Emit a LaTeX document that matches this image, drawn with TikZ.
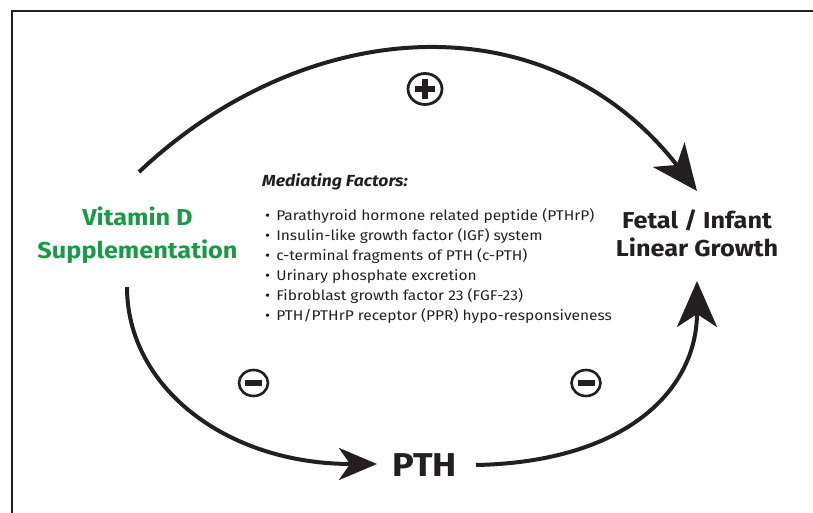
\documentclass[tikz,border=0pt]{standalone}
\usepackage{fontspec}
\setmainfont{Fira Sans}[FakeStretch=1.1]
\usetikzlibrary{arrows.meta,calc,shapes.geometric}
\definecolor{ink}{HTML}{231F20}
\definecolor{vgreen}{HTML}{1A9A48}
\begin{document}
\begin{tikzpicture}[x=1pt,y=-1pt,
  conn/.style={line width=4pt, draw=ink, -{Stealth[length=46pt,width=40pt,inset=13pt]}},
  connsmall/.style={line width=4pt, draw=ink, -{Stealth[length=38pt,width=32pt,inset=11pt]}},
  bigtext/.style={font=\fontsize{23}{32.5}\selectfont\bfseries, text=ink, align=center, inner sep=0pt},
  signbig/.style={draw=ink, line width=2.8pt, ellipse, minimum width=34pt, minimum height=31pt, inner sep=0pt},
  signsmall/.style={draw=ink, line width=2.6pt, ellipse, minimum width=29pt, minimum height=26pt, inner sep=0pt},
  listtext/.style={font=\fontsize{14.1}{20}\selectfont, text=ink, align=left, inner sep=0pt}
]
\useasboundingbox (0,0) rectangle (813,513);
\draw[line width=1.5pt, ink] (12,513) -- (12,11) -- (813,11);

% main nodes (base anchor = baseline of last line)
\node[bigtext, text=vgreen, anchor=base] (vitd) at (137.5,258.3) {Vitamin D\\Supplementation};
\node[bigtext, font=\fontsize{23}{28}\selectfont\bfseries, anchor=base] (growth) at (697,256) {Fetal / Infant\\Linear Growth};
\node[bigtext, font=\fontsize{33}{36}\selectfont\bfseries, anchor=base] (pth) at (424.5,476) {PTH};

% mediating factors
\node[anchor=base west, inner sep=0pt, text=ink, font=\fontsize{16}{20}\selectfont\bfseries\itshape] (mf) at (262,186.5) {Mediating Factors:};
\node[listtext, anchor=base west] (list) at (265,320) {%
• \hspace{2pt}Parathyroid hormone related peptide (PTHrP)\\
• \hspace{2pt}Insulin-like growth factor (IGF) system\\
• \hspace{2pt}c-terminal fragments of PTH (c-PTH)\\
• \hspace{2pt}Urinary phosphate excretion\\
• \hspace{2pt}Fibroblast growth factor 23 (FGF-23)\\
• \hspace{2pt}PTH/PTHrP receptor (PPR) hypo-responsiveness};

% sign nodes
\node[signbig] (plus) at (425,89) {};
\fill[ink] ($(plus.center)+(-10,-3)$) rectangle ($(plus.center)+(10,3)$);
\fill[ink] ($(plus.center)+(-3,-10)$) rectangle ($(plus.center)+(3,10)$);
\node[signsmall] (minusL) at (253.5,383) {};
\fill[ink] ($(minusL.center)+(-8.5,-2.8)$) rectangle ($(minusL.center)+(8.5,2.8)$);
\node[signsmall] (minusR) at (586,383) {};
\fill[ink] ($(minusR.center)+(-8.5,-2.8)$) rectangle ($(minusR.center)+(8.5,2.8)$);

% connector end points
\coordinate (topS) at (139,172);
\coordinate (topE) at (697,191);
\coordinate (leftS) at (127,287);
\coordinate (leftE) at (377,464);
\coordinate (rightS) at (476,465);
\coordinate (rightE) at (697,281);

\draw[conn] (topS) .. controls (304,16) and (546,-3) .. (topE);
\draw[connsmall] (leftS) .. controls (127,387) and (226,464) .. (leftE);
\draw[conn] (rightS) .. controls (626,462) and (697,390) .. (rightE);
\end{tikzpicture}
\end{document}
